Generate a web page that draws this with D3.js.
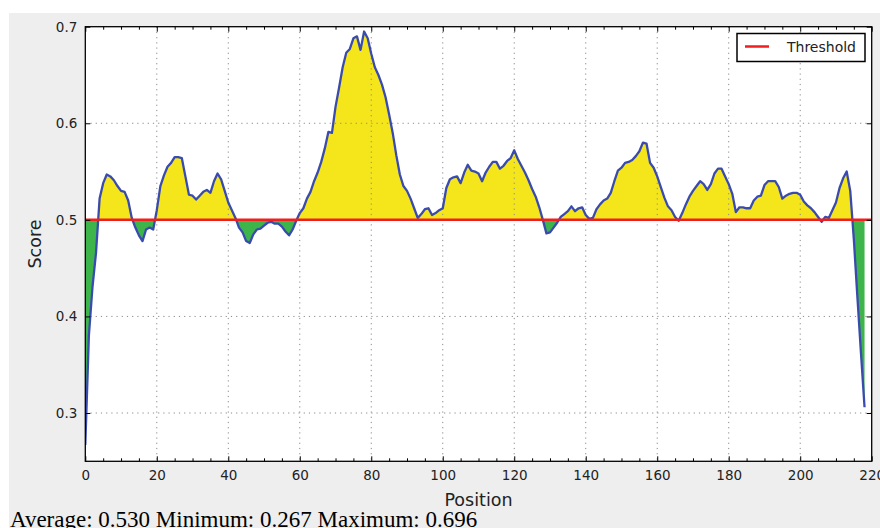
<!DOCTYPE html>
<html><head><meta charset="utf-8">
<script src="https://cdn.jsdelivr.net/npm/d3@7"></script>
<style>body{margin:0;background:#fff;overflow:hidden}</style>
</head><body><svg id="c" width="880" height="528"></svg>
<script>
// ---- data ----
const scores = [
0.267,0.380,0.430,0.466,0.522,0.538,0.547,0.545,0.541,0.535,
0.530,0.529,0.520,0.502,0.492,0.484,0.478,0.490,0.492,0.490,
0.510,0.535,0.546,0.555,0.559,0.565,0.565,0.564,0.545,0.526,
0.525,0.521,0.525,0.529,0.531,0.528,0.540,0.548,0.542,0.530,
0.518,0.510,0.502,0.492,0.487,0.478,0.476,0.485,0.490,0.491,
0.494,0.497,0.498,0.496,0.496,0.493,0.488,0.484,0.490,0.499,
0.507,0.512,0.522,0.529,0.540,0.549,0.560,0.574,0.591,0.590,
0.617,0.637,0.658,0.673,0.677,0.688,0.690,0.676,0.695,0.688,
0.672,0.658,0.650,0.640,0.627,0.609,0.590,0.567,0.547,0.535,
0.530,0.522,0.512,0.502,0.506,0.511,0.512,0.505,0.507,0.510,
0.512,0.533,0.542,0.544,0.545,0.538,0.549,0.557,0.551,0.550,
0.548,0.540,0.549,0.555,0.560,0.560,0.553,0.556,0.561,0.564,
0.572,0.563,0.556,0.549,0.541,0.532,0.524,0.513,0.500,0.486,
0.487,0.492,0.497,0.503,0.506,0.509,0.514,0.509,0.512,0.513,
0.505,0.501,0.502,0.511,0.516,0.520,0.522,0.528,0.540,0.551,
0.554,0.559,0.560,0.562,0.566,0.571,0.580,0.579,0.559,0.554,
0.545,0.534,0.523,0.514,0.510,0.503,0.499,0.507,0.516,0.524,
0.530,0.535,0.540,0.537,0.531,0.537,0.548,0.553,0.553,0.545,
0.537,0.527,0.508,0.513,0.513,0.512,0.512,0.520,0.524,0.525,
0.536,0.540,0.540,0.540,0.534,0.522,0.525,0.527,0.528,0.528,
0.526,0.519,0.515,0.512,0.508,0.503,0.498,0.503,0.502,0.510,
0.518,0.533,0.543,0.550,0.530,0.480,0.420,0.362,0.306
];
const threshold = 0.5;
const xTicks = [0,20,40,60,80,100,120,140,160,180,200,220];
const xMinorTicks = [5,10,15,25,30,35,45,50,55,65,70,75,85,90,95,105,110,115,125,130,135,145,150,155,165,170,175,185,190,195,205,210,215];
const yTicks = [0.3,0.4,0.5,0.6,0.7];
const xDomain = [0,220];
const yDomain = [0.25,0.7];
const legendLabel = "Threshold";
const xLabel = "Position", yLabel = "Score";
const statAverage = 0.530, statMinimum = 0.267, statMaximum = 0.696;

// ---- drawing ----
const svg = d3.select("#c");
const L = 85.3, R = 871.7, T = 26.7, B = 461.3;
const x = d3.scaleLinear().domain(xDomain).range([L,R]);
const y = d3.scaleLinear().domain(yDomain).range([B,T]);
const pts = scores.map((v,i)=>({pos:i, score:v}));

svg.append("rect").attr("x",9).attr("y",13).attr("width",871).attr("height",515).attr("fill","#eeeeee");
svg.append("rect").attr("x",L).attr("y",T).attr("width",R-L).attr("height",B-T).attr("fill","#fff");

const defs = svg.append("defs");
defs.append("clipPath").attr("id","above").append("rect")
  .attr("x",L).attr("y",T).attr("width",R-L).attr("height",y(threshold)-T);
defs.append("clipPath").attr("id","below").append("rect")
  .attr("x",L).attr("y",y(threshold)).attr("width",R-L).attr("height",B-y(threshold));
defs.append("clipPath").attr("id","plot").append("rect")
  .attr("x",L).attr("y",T).attr("width",R-L).attr("height",B-T);

const area = d3.area().x(d=>x(d.pos)).y0(y(threshold)).y1(d=>y(d.score));
svg.append("path").datum(pts).attr("d",area).attr("fill","#f4e61a").attr("clip-path","url(#above)");
svg.append("path").datum(pts).attr("d",area).attr("fill","#3db54a").attr("clip-path","url(#below)");

// grid
const grid = svg.append("g").attr("stroke","#8a8a8a").attr("stroke-width",1).attr("stroke-dasharray","1.2,4");
grid.selectAll("line.v").data(xTicks.slice(1,-1)).join("line")
  .attr("x1",d=>x(d)).attr("x2",d=>x(d)).attr("y1",T).attr("y2",B);
grid.selectAll("line.h").data(yTicks.slice(0,-1)).join("line")
  .attr("x1",L).attr("x2",R).attr("y1",d=>y(d)).attr("y2",d=>y(d));

// curve
const line = d3.line().x(d=>x(d.pos)).y(d=>y(d.score));
svg.append("path").datum(pts).attr("d",line).attr("fill","none")
  .attr("stroke","#3a4bb0").attr("stroke-width",2.3).attr("stroke-linejoin","round").attr("clip-path","url(#plot)");

// threshold
svg.append("line").attr("x1",L).attr("x2",R).attr("y1",y(threshold)).attr("y2",y(threshold))
  .attr("stroke","#f01e1e").attr("stroke-width",2.5);

// axes
const font = "'DejaVu Sans', sans-serif";
function styleAxis(g){ g.select(".domain").remove(); g.selectAll("line").attr("stroke","#000").attr("stroke-width",1); }
const xb = svg.append("g").attr("transform",`translate(0,${B})`)
  .call(d3.axisBottom(x).tickValues(xTicks).tickSizeInner(-5).tickSizeOuter(0).tickPadding(9).tickFormat(d3.format("d")));
styleAxis(xb);
xb.selectAll("text").attr("font-family",font).attr("font-size",13.5).attr("fill","#222");
const xbm = svg.append("g").attr("transform",`translate(0,${B})`)
  .call(d3.axisBottom(x).tickValues(xMinorTicks).tickSizeInner(-3).tickSizeOuter(0).tickFormat(""));
styleAxis(xbm);
const xt = svg.append("g").attr("transform",`translate(0,${T})`)
  .call(d3.axisTop(x).tickValues(xTicks).tickSizeInner(-5).tickSizeOuter(0).tickFormat(""));
styleAxis(xt);
const xtm = svg.append("g").attr("transform",`translate(0,${T})`)
  .call(d3.axisTop(x).tickValues(xMinorTicks).tickSizeInner(-3).tickSizeOuter(0).tickFormat(""));
styleAxis(xtm);
const yl = svg.append("g").attr("transform",`translate(${L},0)`)
  .call(d3.axisLeft(y).tickValues(yTicks).tickSizeInner(-5).tickSizeOuter(0).tickPadding(8).tickFormat(d3.format(".1f")));
styleAxis(yl);
yl.selectAll("text").attr("font-family",font).attr("font-size",13.5).attr("fill","#222");
const yr = svg.append("g").attr("transform",`translate(${R},0)`)
  .call(d3.axisRight(y).tickValues(yTicks).tickSizeInner(-5).tickSizeOuter(0).tickFormat(""));
styleAxis(yr);

// spines
svg.append("rect").attr("x",L).attr("y",T).attr("width",R-L).attr("height",B-T)
  .attr("fill","none").attr("stroke","#000").attr("stroke-width",1.3);

// labels
svg.append("text").attr("x",(L+R)/2).attr("y",506).attr("text-anchor","middle")
  .attr("font-family",font).attr("font-size",17.5).attr("fill","#222").text(xLabel);
svg.append("text").attr("transform",`translate(41,${(T+B)/2}) rotate(-90)`).attr("text-anchor","middle")
  .attr("font-family",font).attr("font-size",17.5).attr("fill","#222").text(yLabel);

// legend
const lg = svg.append("g");
lg.append("rect").attr("x",737).attr("y",33.5).attr("width",128).attr("height",28)
  .attr("fill","#fff").attr("stroke","#000").attr("stroke-width",1.5);
lg.append("line").attr("x1",745).attr("x2",769).attr("y1",46.5).attr("y2",46.5)
  .attr("stroke","#f01e1e").attr("stroke-width",2.5);
lg.append("text").attr("x",787).attr("y",51.5).attr("font-family",font).attr("font-size",14)
  .attr("fill","#222").text(legendLabel);

// stats line
const f3 = d3.format(".3f");
svg.append("text").attr("x",10).attr("y",527).attr("font-family","'Liberation Serif', 'Times New Roman', serif")
  .attr("font-size",23).attr("fill","#000")
  .text(`Average: ${f3(statAverage)} Minimum: ${f3(statMinimum)} Maximum: ${f3(statMaximum)}`);
</script></body></html>
